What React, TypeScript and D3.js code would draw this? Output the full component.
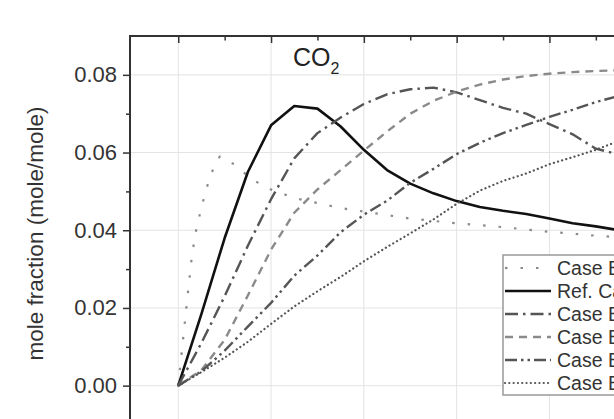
import React, { useEffect, useRef } from 'react';
import * as d3 from 'd3';

// x positions (major grid units) shared by most series
const xSteps = [0, 0.25, 0.5, 0.75, 1, 1.25, 1.5, 1.75, 2, 2.25, 2.5, 2.75, 3, 3.25, 3.5, 3.75, 4, 4.25, 4.5, 4.75];

const refCase = [0, 0.0185, 0.038, 0.055, 0.067, 0.072, 0.0713, 0.0667, 0.0607, 0.0555, 0.052, 0.0495, 0.0475, 0.046, 0.045, 0.0442, 0.043, 0.0418, 0.041, 0.04];
const caseB2 = [0, 0.011, 0.023, 0.036, 0.048, 0.0585, 0.065, 0.069, 0.0725, 0.075, 0.0763, 0.0767, 0.0755, 0.0735, 0.0715, 0.07, 0.0673, 0.0647, 0.061, 0.0595];
const caseB3 = [0, 0.004, 0.0118, 0.0232, 0.035, 0.0445, 0.0505, 0.0555, 0.0605, 0.0654, 0.07, 0.0733, 0.0757, 0.0775, 0.0788, 0.0797, 0.0803, 0.0807, 0.081, 0.0812];
const caseB4 = [0, 0.0037, 0.009, 0.0152, 0.0213, 0.0283, 0.0335, 0.0395, 0.044, 0.0476, 0.0522, 0.0558, 0.0596, 0.0625, 0.065, 0.0671, 0.0692, 0.071, 0.073, 0.0746];
const caseB5 = [0, 0.0035, 0.0072, 0.0113, 0.0159, 0.0204, 0.0243, 0.028, 0.032, 0.0357, 0.0392, 0.0428, 0.0468, 0.0502, 0.0527, 0.0546, 0.057, 0.0588, 0.0607, 0.063];

// case B1 has a sharper peak, own x positions
const caseB1X = [0, 0.1, 0.15, 0.2, 0.3, 0.4, 0.45, 0.6, 0.8, 1, 1.25, 1.5, 1.75, 2, 2.5, 3, 3.5, 4, 4.5, 4.75];
const caseB1 = [0, 0.023, 0.034, 0.041, 0.0505, 0.0575, 0.059, 0.057, 0.053, 0.0505, 0.0483, 0.047, 0.0457, 0.0448, 0.043, 0.0418, 0.0408, 0.0396, 0.0386, 0.0382];

const yTicks = [0, 0.02, 0.04, 0.06, 0.08];
const yMinorTicks = [-0.01, 0.01, 0.03, 0.05, 0.07];
const xMajorTicks = [0, 1, 2, 3, 4];
const xMinorTicks = [0.5, 1.5, 2.5, 3.5, 4.5];
const legendLabels = ['Case B1', 'Ref. Case', 'Case B2', 'Case B3', 'Case B4', 'Case B5'];

const W = 614;
const H = 419;
const FONT = '"Liberation Sans", Arial, sans-serif';

export default function App() {
  const ref = useRef<SVGSVGElement>(null);

  useEffect(() => {
    if (!ref.current) return;
    const svg = d3.select(ref.current);
    svg.selectAll('*').remove();

    const left = 130;
    const top = 36;
    const x = d3.scaleLinear().domain([-0.52, 4.95]).range([left, 637.6]);
    const y = d3.scaleLinear().domain([-0.01, 0.09]).range([424.5, top]);

    // grid
    const grid = svg.append('g').attr('stroke', '#e3e3e3').attr('stroke-width', 1);
    grid.selectAll('line.gx')
      .data(xMajorTicks)
      .join('line')
      .attr('class', 'gx')
      .attr('x1', d => x(d)).attr('x2', d => x(d))
      .attr('y1', top).attr('y2', H);
    grid.selectAll('line.gy')
      .data(yTicks)
      .join('line')
      .attr('class', 'gy')
      .attr('x1', left).attr('x2', W)
      .attr('y1', d => y(d)).attr('y2', d => y(d));

    // series
    const series = [
      { xs: caseB1X, ys: caseB1, color: '#8a8a8a', width: 2.2, dash: '2.5,13' },
      { xs: xSteps, ys: refCase, color: '#111', width: 2.6, dash: null },
      { xs: xSteps, ys: caseB2, color: '#555', width: 2.4, dash: '13,5,2.5,5' },
      { xs: xSteps, ys: caseB3, color: '#8a8a8a', width: 2.4, dash: '8,6' },
      { xs: xSteps, ys: caseB4, color: '#555', width: 2.4, dash: '12,4,2.5,4,2.5,4' },
      { xs: xSteps, ys: caseB5, color: '#555', width: 2.2, dash: '0.1,4.2' },
    ];

    const line = d3.line<[number, number]>()
      .x(d => x(d[0]))
      .y(d => y(d[1]));

    series.forEach(s => {
      const pts = s.xs.map((v, i) => [v, s.ys[i]] as [number, number]);
      svg.append('path')
        .datum(pts)
        .attr('fill', 'none')
        .attr('stroke', s.color)
        .attr('stroke-width', s.width)
        .attr('stroke-linecap', s.dash === '0.1,4.2' ? 'round' : 'butt')
        .attr('stroke-linejoin', 'round')
        .attr('stroke-dasharray', s.dash)
        .attr('d', line);
    });

    // left axis
    const yAxis = svg.append('g')
      .attr('transform', `translate(${left},0)`)
      .call(d3.axisLeft(y).tickValues(yTicks).tickFormat(d3.format('.2f')).tickSize(7).tickPadding(6));
    yAxis.select('.domain').remove();
    yAxis.selectAll('line').attr('stroke', '#333').attr('stroke-width', 1.5);
    yAxis.selectAll('text')
      .attr('font-family', FONT)
      .attr('font-size', 22)
      .attr('fill', '#333');

    const yMinor = svg.append('g')
      .attr('transform', `translate(${left},0)`)
      .call(d3.axisLeft(y).tickValues(yMinorTicks).tickFormat(() => '').tickSize(4));
    yMinor.select('.domain').remove();
    yMinor.selectAll('line').attr('stroke', '#333').attr('stroke-width', 1.5);

    // top axis, ticks inward
    const xTop = svg.append('g')
      .attr('transform', `translate(0,${top})`)
      .call(d3.axisBottom(x).tickValues(xMajorTicks).tickFormat(() => '').tickSize(7));
    xTop.select('.domain').remove();
    xTop.selectAll('line').attr('stroke', '#333').attr('stroke-width', 1.5);

    const xTopMinor = svg.append('g')
      .attr('transform', `translate(0,${top})`)
      .call(d3.axisBottom(x).tickValues(xMinorTicks).tickFormat(() => '').tickSize(4.5));
    xTopMinor.select('.domain').remove();
    xTopMinor.selectAll('line').attr('stroke', '#333').attr('stroke-width', 1.5);

    svg.append('line')
      .attr('x1', left).attr('x2', left)
      .attr('y1', top - 1).attr('y2', H)
      .attr('stroke', '#333').attr('stroke-width', 2);
    svg.append('line')
      .attr('x1', left - 1).attr('x2', W)
      .attr('y1', top).attr('y2', top)
      .attr('stroke', '#333').attr('stroke-width', 2);

    // y label
    svg.append('text')
      .attr('transform', `translate(43,${(107 + 360) / 2}) rotate(-90)`)
      .attr('text-anchor', 'middle')
      .attr('font-family', FONT)
      .attr('font-size', 22.5)
      .attr('fill', '#333')
      .text('mole fraction (mole/mole)');

    // CO2 label
    const co2 = svg.append('text')
      .attr('x', 293)
      .attr('y', 66)
      .attr('font-family', FONT)
      .attr('font-size', 25)
      .attr('fill', '#222');
    co2.append('tspan').text('CO');
    co2.append('tspan').attr('font-size', 16).attr('dy', 8).text('2');

    // legend
    const lg = svg.append('g');
    lg.append('rect')
      .attr('x', 503).attr('y', 255)
      .attr('width', 200).attr('height', 140)
      .attr('fill', '#fff')
      .attr('stroke', '#999')
      .attr('stroke-width', 1.5);
    const rowY = d3.scaleLinear().domain([0, 5]).range([268, 383]);
    legendLabels.forEach((lab, i) => {
      const s = series[i];
      lg.append('line')
        .attr('x1', 505).attr('x2', 551)
        .attr('y1', rowY(i)).attr('y2', rowY(i))
        .attr('stroke', s.color)
        .attr('stroke-width', s.width)
        .attr('stroke-linecap', s.dash === '0.1,4.2' ? 'round' : 'butt')
        .attr('stroke-dasharray', s.dash);
      lg.append('text')
        .attr('x', 557)
        .attr('y', rowY(i))
        .attr('dy', '0.35em')
        .attr('font-family', FONT)
        .attr('font-size', 19.5)
        .attr('fill', '#333')
        .text(lab);
    });
  }, []);

  return (
    <svg
      ref={ref}
      width={W}
      height={H}
      style={{ position: 'absolute', left: 0, top: 0, background: '#fff' }}
    />
  );
}
